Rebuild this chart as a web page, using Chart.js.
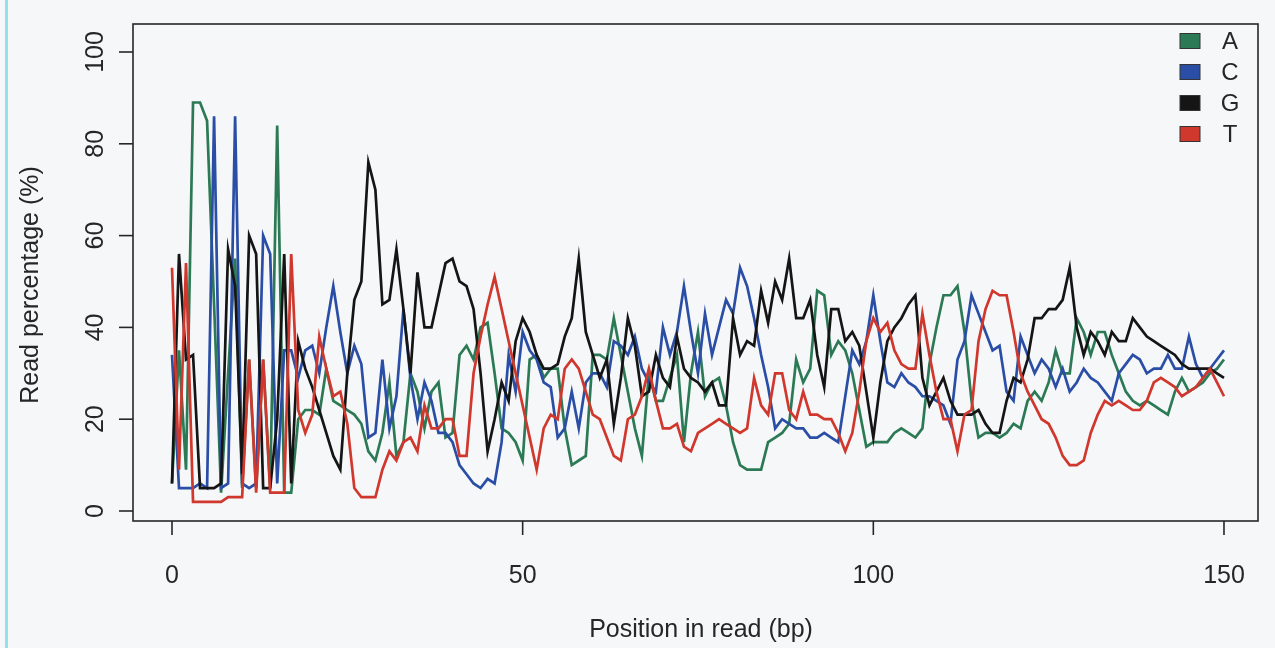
<!DOCTYPE html>
<html>
<head>
<meta charset="utf-8">
<title>Read percentage by position</title>
<script src="https://cdn.jsdelivr.net/npm/chart.js@4.4.1/dist/chart.umd.min.js"></script>
<style>
  html, body { margin: 0; padding: 0; background: #f6f7f9; }
  #wrap { width: 1275px; height: 648px; }
</style>
</head>
<body>
<div id="wrap"><canvas id="myChart" width="1275" height="648"></canvas></div>
<script>
// position in read (bp), 0..150
const positions = Array.from({ length: 151 }, (_, i) => i);

// read percentage (%) per base
const baseA = [
  6, 35, 9, 89, 89, 85, 45, 4, 30, 55,
  5, 33, 5, 33, 5, 84, 4, 4, 20, 22,
  22, 21, 31, 24, 23, 22, 21, 19, 13, 11,
  17, 28, 12, 15, 30, 26, 18, 26, 28, 16,
  17, 34, 36, 33, 40, 41, 30, 18, 17, 15,
  11, 33, 34, 29, 31, 31, 18, 10, 11, 12,
  34, 34, 33, 42, 34, 26, 18, 12, 30, 24,
  24, 29, 34, 15, 30, 39, 25, 28, 29, 23,
  15, 10, 9, 9, 9, 15, 16, 17, 19, 33,
  28, 31, 48, 47, 34, 37, 35, 30, 22, 14,
  15, 15, 15, 17, 18, 17, 16, 18, 32, 40,
  47, 47, 49, 39, 24, 16, 17, 17, 16, 17,
  19, 18, 24, 26, 24, 28, 35, 30, 30, 42,
  39, 34, 39, 39, 34, 30, 26, 24, 23, 24,
  23, 22, 21, 26, 29, 26, 27, 28, 30, 31, 33
];
const baseC = [
  34, 5, 5, 5, 6, 5, 86, 5, 6, 86,
  6, 5, 6, 60, 56, 6, 35, 35, 29, 35,
  36, 30, 40, 49, 39, 30, 36, 32, 16, 17,
  33, 18, 25, 44, 29, 20, 28, 24, 17, 17,
  15, 10, 8, 6, 5, 7, 6, 15, 34, 26,
  39, 35, 33, 28, 27, 16, 18, 26, 18, 28,
  30, 30, 27, 37, 36, 34, 38, 31, 28, 26,
  40, 34, 39, 49, 39, 30, 43, 34, 40, 46,
  43, 53, 49, 42, 34, 27, 18, 20, 19, 18,
  18, 16, 16, 17, 16, 15, 25, 35, 32, 37,
  47, 37, 28, 27, 30, 28, 27, 25, 25, 24,
  23, 19, 33, 37, 47, 43, 39, 35, 36, 26,
  24, 38, 34, 30, 33, 31, 27, 31, 26, 28,
  31, 29, 28, 26, 24, 30, 32, 34, 33, 30,
  31, 31, 34, 31, 31, 38, 32, 29, 31, 33, 35
];
const baseG = [
  6, 56, 33, 34, 5, 5, 5, 6, 57, 49,
  8, 60, 56, 5, 5, 20, 56, 6, 37, 31,
  27, 22, 17, 12, 9, 30, 46, 50, 76, 70,
  45, 46, 57, 44, 30, 52, 40, 40, 47, 54,
  55, 50, 49, 44, 30, 13, 20, 28, 24, 37,
  42, 39, 34, 31, 31, 32, 38, 42, 55, 39,
  34, 29, 33, 19, 29, 42, 36, 25, 26, 34,
  29, 27, 38, 31, 29, 28, 26, 28, 23, 23,
  42, 34, 37, 36, 48, 41, 50, 46, 55, 42,
  42, 46, 34, 27, 44, 44, 37, 39, 36, 26,
  16, 28, 37, 40, 42, 45, 47, 29, 23, 26,
  29, 24, 21, 21, 21, 22, 19, 17, 17, 24,
  29, 28, 33, 42, 42, 44, 44, 46, 53, 40,
  34, 39, 37, 34, 39, 37, 37, 42, 40, 38,
  37, 36, 35, 34, 32, 31, 31, 31, 31, 30, 29
];
const baseT = [
  53, 9, 54, 2, 2, 2, 2, 2, 3, 3,
  3, 33, 4, 33, 4, 4, 4, 56, 22, 17,
  21, 38, 31, 25, 26, 19, 5, 3, 3, 3,
  9, 13, 11, 15, 16, 13, 23, 18, 18, 20,
  20, 12, 12, 30, 38, 45, 51, 44, 37, 30,
  23, 16, 9, 18, 21, 20, 31, 33, 31, 26,
  21, 20, 16, 12, 11, 20, 21, 25, 31, 24,
  18, 18, 19, 14, 13, 17, 18, 19, 20, 19,
  18, 17, 18, 29, 23, 21, 30, 30, 22, 20,
  26, 21, 21, 20, 20, 17, 13, 17, 26, 37,
  42, 39, 41, 35, 32, 31, 31, 43, 34, 26,
  20, 20, 13, 21, 22, 37, 44, 48, 47, 47,
  39, 30, 26, 23, 20, 19, 16, 12, 10, 10,
  11, 17, 21, 24, 23, 24, 23, 22, 22, 24,
  28, 29, 28, 27, 25, 26, 27, 29, 31, 28, 25
];

const bases = ['A', 'C', 'G', 'T'];
const baseColors = ['#2c7a55', '#2a4ea6', '#151515', '#d0372d'];
const xTicks = [0, 50, 100, 150];
const yTicks = [0, 20, 40, 60, 80, 100];

const FONT = '"Liberation Sans", Arial, Helvetica, sans-serif';
const INK = '#262626';

function toPoints(vals) {
  return positions.map((p, i) => ({ x: p, y: vals[i] }));
}

// R-like frame: box, outward ticks, rotated y labels, legend in the corner
const rFrame = {
  id: 'rFrame',
  beforeDraw(chart) {
    const c = chart.ctx;
    c.save();
    c.fillStyle = '#f6f7f9';
    c.fillRect(0, 0, chart.width, chart.height);
    c.fillStyle = '#8fe3ea';
    c.fillRect(5, 0, 3, chart.height);
    c.restore();
  },
  afterDraw(chart) {
    const c = chart.ctx;
    const a = chart.chartArea;
    const xs = chart.scales.x;
    const ys = chart.scales.y;
    c.save();
    c.strokeStyle = INK;
    c.fillStyle = INK;
    c.lineWidth = 1.6;
    c.strokeRect(a.left, a.top, a.right - a.left, a.bottom - a.top);

    c.font = '25px ' + FONT;
    c.textAlign = 'center';
    c.textBaseline = 'middle';

    xTicks.forEach(v => {
      const px = xs.getPixelForValue(v);
      c.beginPath();
      c.moveTo(px, a.bottom);
      c.lineTo(px, a.bottom + 14);
      c.stroke();
      c.fillText(String(v), px, 576);
    });

    yTicks.forEach(v => {
      const py = ys.getPixelForValue(v);
      c.beginPath();
      c.moveTo(a.left, py);
      c.lineTo(a.left - 14, py);
      c.stroke();
      c.save();
      c.translate(96, py);
      c.rotate(-Math.PI / 2);
      c.fillText(String(v), 0, 0);
      c.restore();
    });

    c.fillText('Position in read (bp)', 701, 630);
    c.save();
    c.translate(31, 285);
    c.rotate(-Math.PI / 2);
    c.fillText('Read percentage (%)', 0, 0);
    c.restore();

    // legend
    c.font = '24px ' + FONT;
    c.lineWidth = 1;
    bases.forEach((b, i) => {
      const cy = 41 + i * 31;
      c.fillStyle = baseColors[i];
      c.fillRect(1180, cy - 7.5, 20, 15);
      c.strokeStyle = '#333';
      c.strokeRect(1180, cy - 7.5, 20, 15);
      c.fillStyle = INK;
      c.fillText(b, 1230, cy + 1);
    });
    c.restore();
  }
};

const ctx = document.getElementById('myChart').getContext('2d');
const seriesVals = [baseA, baseC, baseG, baseT];

new Chart(ctx, {
  type: 'line',
  data: {
    datasets: bases.map((b, i) => ({
      label: b,
      data: toPoints(seriesVals[i]),
      borderColor: baseColors[i],
      backgroundColor: baseColors[i],
      borderWidth: 2.7,
      pointRadius: 0,
      tension: 0,
      fill: false,
      order: 3 - i
    }))
  },
  options: {
    responsive: false,
    animation: false,
    layout: { padding: { left: 133, right: 17, top: 24, bottom: 127 } },
    scales: {
      x: { type: 'linear', min: -5.56, max: 154.85, display: false },
      y: { type: 'linear', min: -2.18, max: 106.1, display: false }
    },
    plugins: {
      legend: { display: false },
      tooltip: { enabled: false }
    }
  },
  plugins: [rFrame]
});
</script>
</body>
</html>
